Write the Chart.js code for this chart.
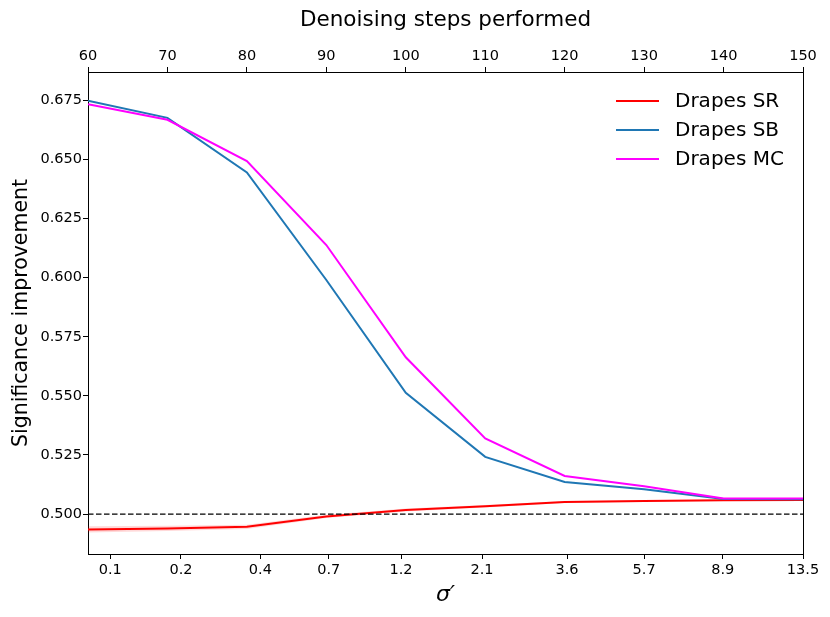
<!DOCTYPE html>
<html>
<head>
<meta charset="utf-8">
<script src="https://cdn.jsdelivr.net/npm/chart.js@4.4.1/dist/chart.umd.min.js"></script>
<style>
  body { margin: 0; background: #fff; }
  #wrap { width: 830px; height: 617px; position: relative; }
</style>
</head>
<body>
<div id="wrap"><canvas id="myChart"></canvas></div>
<script>
const steps = [60, 70, 80, 90, 100, 110, 120, 130, 140, 150];
const drapesSR = [0.4935, 0.4939, 0.4946, 0.4990, 0.5017, 0.5033, 0.5051, 0.5055, 0.5058, 0.5059];
const drapesSRErr = [0.0013, 0.0011, 0.0009, 0.0007, 0.0006, 0.0005, 0.0004, 0.0004, 0.0003, 0.0003];
const drapesSB = [0.6748, 0.6676, 0.6445, 0.5990, 0.5513, 0.5242, 0.5136, 0.5105, 0.5064, 0.5063];
const drapesMC = [0.6734, 0.6668, 0.6493, 0.6138, 0.5663, 0.5320, 0.5161, 0.5118, 0.5066, 0.5066];
const baseline = 0.5;

// sigma' tick labels and where they sit on the steps axis
const sigmaLabels = ['0.1', '0.2', '0.4', '0.7', '1.2', '2.1', '3.6', '5.7', '8.9', '13.5'];
const sigmaPos = [62.8, 71.7, 81.7, 90.3, 99.4, 109.6, 120.3, 130.0, 139.9, 150];
const yTicks = [0.500, 0.525, 0.550, 0.575, 0.600, 0.625, 0.650, 0.675];

const FONT = 'DejaVu Sans';
const toPts = ys => steps.map((s, i) => ({ x: s, y: ys[i] }));

const legendPlugin = {
    id: 'insideLegend',
    afterDatasetsDraw(chart) {
        const { ctx, chartArea } = chart;
        const items = chart.data.datasets.filter(d => d.inLegend);
        ctx.save();
        ctx.font = '20px "' + FONT + '"';
        ctx.textBaseline = 'middle';
        items.forEach((d, i) => {
            const y = chartArea.top + 29 + i * 29;
            const x0 = chartArea.right - 187;
            ctx.strokeStyle = d.borderColor;
            ctx.lineWidth = 2;
            ctx.beginPath();
            ctx.moveTo(x0, y);
            ctx.lineTo(x0 + 43, y);
            ctx.stroke();
            ctx.fillStyle = '#000';
            ctx.fillText(d.label, x0 + 59, y + 1);
        });
        ctx.restore();
    }
};

const tickStyle = { color: '#000', font: { family: FONT, size: 14.5 } };
const gridStyle = { drawOnChartArea: false, drawTicks: true, tickLength: 5, tickColor: '#000', tickWidth: 1 };
const borderStyle = { display: true, color: '#000', width: 1 };

new Chart(document.getElementById('myChart').getContext('2d'), {
    type: 'line',
    data: {
        datasets: [
            {
                label: 'sr_low',
                data: steps.map((s, i) => ({ x: s, y: drapesSR[i] - drapesSRErr[i] })),
                borderWidth: 0, pointRadius: 0, fill: false, order: 6
            },
            {
                label: 'sr_high',
                data: steps.map((s, i) => ({ x: s, y: drapesSR[i] + drapesSRErr[i] })),
                borderWidth: 0, pointRadius: 0, fill: '-1',
                backgroundColor: 'rgba(255, 0, 0, 0.15)', order: 5
            },
            {
                label: 'Drapes SR', inLegend: true,
                data: toPts(drapesSR),
                borderColor: '#ff0000', borderWidth: 2, pointRadius: 0, order: 4
            },
            {
                label: 'Drapes SB', inLegend: true,
                data: toPts(drapesSB),
                borderColor: '#1f77b4', borderWidth: 2, pointRadius: 0, order: 3
            },
            {
                label: 'Drapes MC', inLegend: true,
                data: toPts(drapesMC),
                borderColor: '#ff00ff', borderWidth: 2, pointRadius: 0, order: 2
            },
            {
                label: 'baseline',
                data: [{ x: steps[0], y: baseline }, { x: steps[steps.length - 1], y: baseline }],
                borderColor: '#000', borderWidth: 1.2, borderDash: [5.5, 2.5],
                pointRadius: 0, order: 1
            }
        ]
    },
    options: {
        responsive: true,
        maintainAspectRatio: false,
        animation: false,
        layout: { padding: 0 },
        plugins: { legend: { display: false }, tooltip: { enabled: false } },
        scales: {
            x: {
                type: 'linear', position: 'bottom', min: 60, max: 150,
                afterBuildTicks: scale => { scale.ticks = sigmaPos.map(v => ({ value: v })); },
                afterFit: scale => { scale.height = 63; },
                ticks: { ...tickStyle, padding: 3, maxRotation: 0, autoSkip: false,
                    callback: (v, i) => sigmaLabels[i] },
                grid: gridStyle,
                border: borderStyle,
                title: { display: true, text: 'σ′', color: '#000',
                    font: { family: FONT, size: 22, style: 'italic' }, padding: { bottom: 9 } }
            },
            x2: {
                type: 'linear', position: 'top', min: 60, max: 150,
                afterFit: scale => { scale.height = 72; },
                ticks: { ...tickStyle, stepSize: 10, padding: 2, maxRotation: 0 },
                grid: gridStyle,
                border: borderStyle,
                title: { display: true, text: 'Denoising steps performed', color: '#000',
                    font: { family: FONT, size: 21.5 }, padding: { top: 7.5 } }
            },
            y: {
                type: 'linear', position: 'left', min: 0.4831, max: 0.687,
                afterBuildTicks: scale => { scale.ticks = yTicks.map(v => ({ value: v })); },
                afterFit: scale => { scale.width = 88; },
                ticks: { ...tickStyle, padding: 1, callback: v => v.toFixed(3) },
                grid: gridStyle,
                border: borderStyle,
                title: { display: true, text: 'Significance improvement', color: '#000',
                    font: { family: FONT, size: 20.5 }, padding: { top: 9 } }
            },
            y2: {
                type: 'linear', position: 'right', min: 0.4831, max: 0.687,
                afterFit: scale => { scale.width = 27; },
                ticks: { display: false },
                grid: { drawOnChartArea: false, drawTicks: false },
                border: borderStyle
            }
        }
    },
    plugins: [legendPlugin]
});
</script>
</body>
</html>
